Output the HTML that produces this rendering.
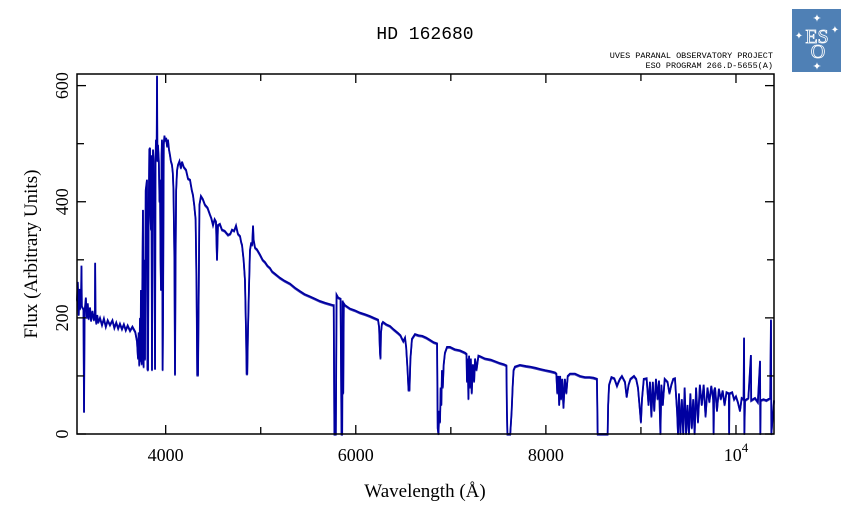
<!DOCTYPE html>
<html><head><meta charset="utf-8">
<style>
html,body{margin:0;padding:0;background:#fff;}
svg{display:block;font-family:"Liberation Serif",serif;}
</style></head>
<body>
<svg id="chart" width="851" height="511" viewBox="0 0 851 511">
  <text x="425" y="39" text-anchor="middle" font-size="18" font-family="Liberation Mono, monospace">HD 162680</text>
  <text x="773" y="58" text-anchor="end" font-size="8.5" font-family="Liberation Mono, monospace">UVES PARANAL OBSERVATORY PROJECT</text>
  <text x="773" y="68" text-anchor="end" font-size="8.5" font-family="Liberation Mono, monospace">ESO PROGRAM 266.D-5655(A)</text>
  <g>
    <rect x="792" y="9" width="49" height="63" fill="#4f80b5"/>
    <text x="817" y="43" text-anchor="middle" font-size="20" fill="none" stroke="#fff" stroke-width="0.8">ES</text>
    <text x="818" y="58" text-anchor="middle" font-size="20" fill="none" stroke="#fff" stroke-width="0.8">O</text>
    <text x="817" y="22" text-anchor="middle" font-size="11" fill="#fff">✦</text>
    <text x="817" y="70" text-anchor="middle" font-size="11" fill="#fff">✦</text>
    <text x="799" y="39" text-anchor="middle" font-size="10" fill="#fff">✦</text>
    <text x="835" y="33" text-anchor="middle" font-size="10" fill="#fff">✦</text>
  </g>
  <g id="spec"></g>
  <rect x="77" y="74" width="697" height="360" fill="none" stroke="#000" stroke-width="1.5"/>
  <g id="axes"></g>
  <text x="425" y="497" text-anchor="middle" font-size="19">Wavelength (Å)</text>
  <text transform="translate(37,254) rotate(-90)" text-anchor="middle" font-size="19">Flux (Arbitrary Units)</text>
</svg>
<script>
const xTicks=[4000,6000,8000,10000];
const xTickLabels=["4000","6000","8000","10"];
const xMinorTicks=[5000,7000,9000];
const yTicks=[0,200,400,600];
const yTickLabels=["0","200","400","600"];
const yMinorTicks=[100,300,500];
const wavelength=[3067,3075,3085,3092,3099,3110,3114,3118,3135,3141,3147,3160,3170,3180,3190,3204,3215,3230,3245,3256,3258,3262,3270,3280,3290,3309,3330,3350,3370,3390,3414,3440,3460,3480,3500,3519,3540,3560,3580,3600,3625,3650,3680,3698,3709,3716,3722,3730,3735,3740,3748,3755,3761,3768,3775,3782,3790,3803,3808,3814,3820,3828,3835,3840,3845,3850,3856,3861,3867,3872,3880,3888,3893,3898,3905,3909,3913,3919,3928,3935,3940,3946,3951,3957,3961,3968,3972,3980,3987,3993,4005,4015,4024,4035,4045,4055,4066,4075,4082,4092,4098,4104,4110,4120,4130,4145,4160,4172,4190,4214,4235,4256,4275,4287,4300,4315,4325,4332,4340,4348,4355,4371,4390,4413,4440,4466,4480,4498,4515,4529,4540,4550,4570,4592,4620,4656,4680,4698,4720,4740,4760,4782,4795,4803,4820,4834,4845,4852,4858,4866,4876,4887,4900,4910,4919,4925,4940,4960,4992,5020,5045,5070,5097,5120,5150,5180,5203,5250,5308,5360,5413,5460,5518,5570,5623,5676,5720,5760,5768,5775,5790,5798,5815,5840,5850,5857,5862,5868,5874,5886,5939,5990,6044,6100,6149,6190,6234,6245,6255,6260,6265,6275,6286,6320,6360,6400,6444,6470,6487,6500,6518,6530,6545,6555,6565,6575,6591,6623,6660,6700,6740,6781,6820,6855,6862,6870,6878,6886,6893,6900,6907,6915,6925,6938,6960,6991,7040,7096,7149,7165,7170,7178,7185,7192,7200,7210,7220,7232,7245,7255,7270,7290,7307,7359,7420,7470,7517,7560,7585,7590,7595,7610,7625,7640,7650,7660,7675,7727,7790,7833,7890,7938,7990,8050,8096,8110,8120,8130,8140,8150,8160,8172,8185,8200,8215,8230,8254,8306,8359,8411,8460,8500,8537,8545,8600,8650,8655,8665,8690,8720,8748,8765,8779,8800,8832,8850,8870,8890,8927,8950,8969,8990,9000,9011,9030,9060,9080,9095,9110,9125,9140,9158,9175,9190,9205,9215,9230,9250,9280,9300,9320,9340,9358,9380,9390,9400,9415,9430,9445,9460,9475,9490,9505,9520,9535,9550,9565,9580,9600,9620,9640,9660,9680,9700,9720,9740,9760,9765,9770,9780,9800,9820,9840,9860,9880,9900,9925,9928,9931,9960,9980,10000,10020,10042,10060,10080,10085,10088,10095,10130,10157,10160,10200,10230,10253,10256,10260,10290,10320,10360,10368,10372,10400];
const flux=[230,262,205,250,215,240,290,220,215,38,210,235,200,225,198,218,195,212,196,208,295,205,190,205,192,200,188,199,185,196,188,196,183,192,182,190,181,189,179,187,178,185,176,160,130,175,118,200,125,248,120,270,386,115,300,128,420,438,112,110,350,490,493,380,352,480,110,430,490,470,360,112,470,507,480,617,470,498,470,400,438,300,248,480,507,110,200,500,514,505,510,495,507,490,481,470,464,450,420,300,102,300,420,455,464,470,458,469,460,455,440,438,420,412,395,370,250,102,102,250,395,410,405,395,390,378,372,360,370,366,300,360,362,352,350,343,345,352,350,359,345,341,330,326,300,266,180,104,104,180,250,317,330,325,359,335,321,318,309,300,296,290,286,280,276,272,269,264,259,252,246,241,237,233,229,226,224,222,222,0,0,240,235,233,0,0,230,70,225,222,216,213,209,206,203,200,197,185,140,130,175,190,193,189,186,180,174,170,164,160,166,150,110,76,76,130,164,172,170,169,166,162,158,156,10,0,40,20,80,50,110,80,120,140,150,150,146,144,140,138,90,130,60,135,80,130,70,120,90,130,110,135,134,130,128,125,122,120,118,40,0,0,0,40,80,110,116,119,117,116,114,112,110,108,106,104,70,100,50,100,60,95,45,95,70,100,104,104,100,98,98,97,95,0,0,0,50,85,98,96,83,90,95,100,90,64,85,95,100,95,80,40,20,60,95,96,50,90,30,90,40,95,60,92,0,85,50,95,90,70,85,95,96,40,0,70,0,60,0,80,0,50,0,70,10,60,0,80,20,85,50,85,30,80,55,83,60,0,75,80,40,78,60,75,50,72,70,0,70,72,60,65,55,40,62,60,166,0,58,62,136,58,62,55,126,0,58,60,58,62,197,0,58];

const X0=77,X1=774,Y0=434,Y1=74;
const WMIN=3067,WMAX=10400,FMIN=0,FMAX=620;
function xScale(w){return X0+(w-WMIN)/(WMAX-WMIN)*(X1-X0);}
function yScale(f){return Y0-(f-FMIN)/(FMAX-FMIN)*(Y0-Y1);}
const NS="http://www.w3.org/2000/svg";
const spec=document.getElementById('spec');
const axes=document.getElementById('axes');

const n=Math.min(wavelength.length,flux.length);
let d="";
for(let i=0;i<n;i++){d+=(i?"L":"M")+xScale(wavelength[i]).toFixed(2)+","+yScale(Math.min(flux[i],FMAX)).toFixed(2);}
const shadow=document.createElementNS(NS,'path');
shadow.setAttribute('d',d);
shadow.setAttribute('fill','none');
shadow.setAttribute('stroke','#0000a0');
shadow.setAttribute('stroke-width','1.6');
shadow.setAttribute('transform','translate(0,1)');
shadow.setAttribute('opacity','0.8');


spec.appendChild(shadow);
const path=document.createElementNS(NS,'path');
path.setAttribute('d',d);
path.setAttribute('fill','none');
path.setAttribute('stroke','#0000a0');
path.setAttribute('stroke-width','1.8');


spec.appendChild(path);

function line(x1,y1,x2,y2,name){
  const l=document.createElementNS(NS,'line');
  l.setAttribute('x1',x1);l.setAttribute('y1',y1);l.setAttribute('x2',x2);l.setAttribute('y2',y2);
  l.setAttribute('stroke','#000');l.setAttribute('stroke-width','1.3');
  
  
  axes.appendChild(l);
}
function txt(x,y,s,name,extra){
  const t=document.createElementNS(NS,'text');
  t.setAttribute('x',x);t.setAttribute('y',y);t.setAttribute('font-size','18');
  t.setAttribute('text-anchor','middle');
  if(extra)t.setAttribute('transform',extra);
  t.textContent=s;
  
  
  axes.appendChild(t);
  return t;
}
xTicks.forEach((w,i)=>{
  const x=xScale(w);
  line(x,Y0,x,Y0-9,'x-tick');
  line(x,Y1,x,Y1+9,'x-tick-top');
  const t=txt(x,461,xTickLabels[i],'x-tick-label');
  if(w===10000){
    const s=document.createElementNS(NS,'tspan');
    s.setAttribute('dy','-9');s.setAttribute('font-size','13');
    s.textContent='4';
    t.appendChild(s);
  }
});
xMinorTicks.forEach(w=>{
  const x=xScale(w);
  line(x,Y0,x,Y0-7,'x-minor-tick');
  line(x,Y1,x,Y1+7,'x-minor-tick-top');
});
yTicks.forEach((f,i)=>{
  const y=yScale(f);
  line(X0,y,X0+9,y,'y-tick');
  line(X1,y,X1-9,y,'y-tick-right');
  txt(68,y,yTickLabels[i],'y-tick-label','rotate(-90 68 '+y+')');
});
yMinorTicks.forEach(f=>{
  const y=yScale(f);
  line(X0,y,X0+7,y,'y-minor-tick');
  line(X1,y,X1-7,y,'y-minor-tick-right');
});
</script>
</body></html>
